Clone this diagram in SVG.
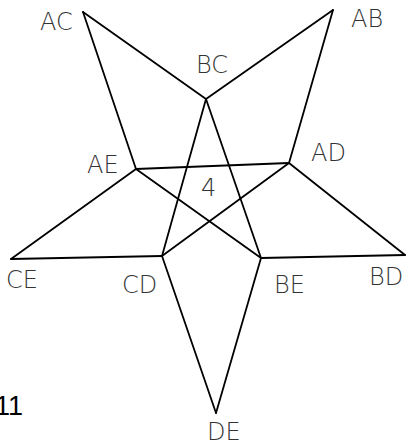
<svg xmlns="http://www.w3.org/2000/svg" width="408" height="446" viewBox="0 0 408 446">
<style>
.lbl{font-family:"DejaVu Sans","Liberation Sans",sans-serif;font-weight:200;font-size:24px;fill:#333}
.e{stroke:#000;stroke-width:1.8;fill:none;stroke-linecap:round;stroke-linejoin:round}
</style>
<rect width="408" height="446" fill="#fff"/>
<g id="connectors" class="e">
<line x1="83" y1="12" x2="206" y2="99"/>
<line x1="83" y1="12" x2="136" y2="169"/>
<line x1="333" y1="10" x2="206" y2="99"/>
<line x1="333" y1="10" x2="289" y2="163"/>
<line x1="206" y1="99" x2="162" y2="256"/>
<line x1="206" y1="99" x2="261" y2="258"/>
<line x1="136" y1="169" x2="289" y2="163"/>
<line x1="136" y1="169" x2="11" y2="259"/>
<line x1="136" y1="169" x2="261" y2="258"/>
<line x1="289" y1="163" x2="162" y2="256"/>
<line x1="289" y1="163" x2="405" y2="255"/>
<line x1="11" y1="259" x2="162" y2="256"/>
<line x1="162" y1="256" x2="216" y2="413"/>
<line x1="261" y1="258" x2="216" y2="413"/>
<line x1="261" y1="258" x2="405" y2="255"/>
</g>
<g id="AC"><text class="lbl" x="40" y="30">AC</text></g>
<g id="AB"><text class="lbl" x="351" y="27">AB</text></g>
<g id="BC"><text class="lbl" x="196" y="73">BC</text></g>
<g id="AE"><text class="lbl" x="87" y="173">AE</text></g>
<g id="AD"><text class="lbl" x="311" y="161">AD</text></g>
<g id="center"><text class="lbl" x="201" y="196">4</text></g>
<g id="CE"><text class="lbl" x="6" y="288">CE</text></g>
<g id="CD"><text class="lbl" x="122" y="293">CD</text></g>
<g id="BE"><text class="lbl" x="274" y="293">BE</text></g>
<g id="BD"><text class="lbl" x="369" y="285">BD</text></g>
<g id="DE"><text class="lbl" x="207" y="440">DE</text></g>
<g id="caption"><text x="-5" y="415" font-family="Liberation Sans, Arial, sans-serif" font-size="27" fill="#000">11</text></g>
</svg>
